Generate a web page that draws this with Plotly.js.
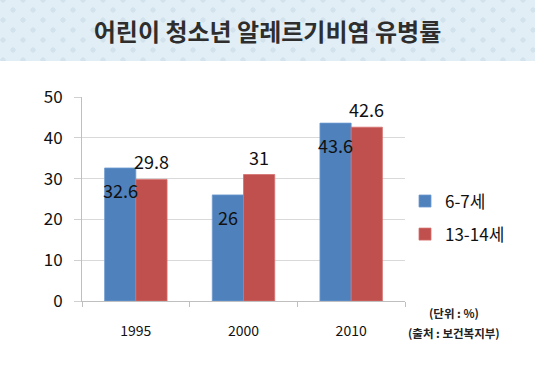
<!DOCTYPE html>
<html>
<head>
<meta charset="utf-8">
<script src="https://cdn.plot.ly/plotly-3.0.1.min.js"></script>
<style>
  html, body { margin: 0; padding: 0; background: #ffffff; }
  #wrap { position: relative; width: 535px; height: 390px; }
  #band {
    position: absolute; left: 0; top: 0; width: 535px; height: 61px;
    background-color: #e2eef6;
    background-image:
      radial-gradient(circle, #d3e3ed 2.4px, transparent 2.9px),
      radial-gradient(circle, #d3e3ed 2.4px, transparent 2.9px);
    background-size: 20px 20px, 20px 20px;
    background-position: 3px 0px, -7px -10px;
  }
  #chart { position: absolute; left: 0; top: 0; width: 535px; height: 390px; }
</style>
</head>
<body>
<div id="wrap">
  <div id="band"></div>
  <div id="chart"></div>
</div>
<script>
const categories = ['1995', '2000', '2010'];
const seriesNames = ['6-7세', '13-14세'];
const kids = [32.6, 26, 43.6];
const teens = [29.8, 31, 42.6];
const yTicks = [0, 10, 20, 30, 40, 50];
const titleText = '어린이 청소년 알레르기비염 유병률';
const unitText = '(단위 : %)';
const sourceText = '(출처 : 보건복지부)';

const FONT = '"Noto Sans CJK KR", "Noto Sans", sans-serif';
const BLUE = '#4f81bd';
const RED = '#c0504d';

const traces = [
  { type: 'bar', name: seriesNames[0], x: categories, y: kids,
    marker: { color: BLUE, line: { color: '#6f9bd0', width: 0.8 } },
    legendgroup: 'a', hoverinfo: 'skip' },
  { type: 'bar', name: seriesNames[1], x: categories, y: teens,
    marker: { color: RED, line: { color: '#d5706d', width: 0.8 } },
    legendgroup: 'b', hoverinfo: 'skip' }
];

const labelFont = { family: FONT, size: 18, color: '#111111' };
const annotations = [];
categories.forEach((c, i) => {
  annotations.push({ x: i, y: kids[i], xref: 'x', yref: 'y', text: String(kids[i]),
    showarrow: false, xshift: -15.5, yshift: -22, yanchor: 'middle', font: labelFont });
  annotations.push({ x: i, y: teens[i], xref: 'x', yref: 'y', text: String(teens[i]),
    showarrow: false, xshift: 15.5, yshift: 18, yanchor: 'middle', font: labelFont });
});
annotations.push({ xref: 'paper', yref: 'paper', x: 1.152, y: -0.058, xanchor: 'center', yanchor: 'middle',
  text: '<b>' + unitText + '</b>', showarrow: false, font: { family: FONT, size: 11.5, color: '#222222' } });
annotations.push({ xref: 'paper', yref: 'paper', x: 1.152, y: -0.156, xanchor: 'center', yanchor: 'middle',
  text: '<b>' + sourceText + '</b>', showarrow: false, font: { family: FONT, size: 11.5, color: '#222222' } });

const layout = {
  width: 535, height: 390,
  paper_bgcolor: 'rgba(0,0,0,0)',
  plot_bgcolor: 'rgba(0,0,0,0)',
  margin: { l: 82, r: 130, t: 97, b: 89 },
  title: { text: '<b>' + titleText + '</b>', x: 0.5, xanchor: 'center', xref: 'container',
    y: 1 - 33 / 390, yref: 'container', yanchor: 'middle',
    font: { family: FONT, size: 24, color: '#2e2e2e' } },
  barmode: 'group',
  bargap: 0.42,
  bargroupgap: 0,
  xaxis: {
    type: 'category', range: [-0.5, categories.length - 0.5], autorange: false,
    showgrid: false, showline: true, linecolor: '#bfbfbf', linewidth: 1,
    ticks: 'outside', tickson: 'boundaries', ticklen: 5, tickcolor: '#bfbfbf',
    ticklabelstandoff: 17,
    tickfont: { family: FONT, size: 14, color: '#111111' }, fixedrange: true
  },
  yaxis: {
    range: [0, 50], autorange: false, tickvals: yTicks, ticktext: yTicks.map(String),
    showgrid: true, gridcolor: '#d9d9d9', gridwidth: 1,
    showline: true, linecolor: '#bfbfbf', linewidth: 1,
    ticks: 'outside', ticklen: 7, tickcolor: '#d0d0d0',
    ticklabelstandoff: 8, zeroline: false,
    tickfont: { family: FONT, size: 17, color: '#111111' }, fixedrange: true
  },
  showlegend: true,
  legend: { x: 1.0, xanchor: 'left', y: 0.407, yanchor: 'middle',
    font: { family: FONT, size: 17, color: '#111111' },
    traceorder: 'grouped', tracegroupgap: 8, bgcolor: 'rgba(0,0,0,0)' },
  annotations: annotations
};

Plotly.newPlot('chart', traces, layout, { staticPlot: true, displayModeBar: false });
</script>
</body>
</html>
